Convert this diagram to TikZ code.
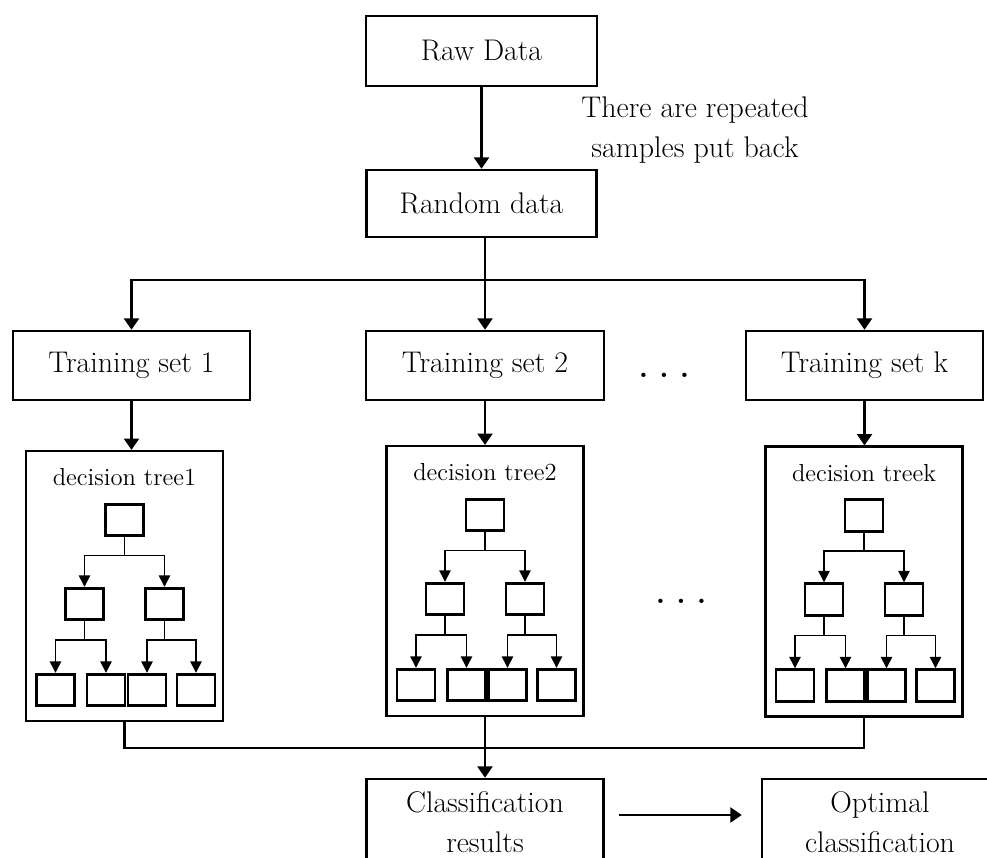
\documentclass[tikz,border=0pt]{standalone}
\usepackage{tikz}
\usetikzlibrary{arrows.meta, positioning, calc}

\tikzset{
    stage/.style={draw, line width=1.4pt, minimum width=4.74cm, minimum height=1.38cm,
        inner sep=2pt, align=center, font=\fontsize{17}{22.7}\selectfont},
    treebox/.style={draw, line width=1.2pt, minimum width=3.94cm, minimum height=5.4cm},
    leaf/.style={draw, line width=1.6pt, minimum width=0.76cm, minimum height=0.63cm, inner sep=0pt},
    flow/.style={line width=1.5pt, ->},
    stem/.style={line width=0.8pt},
    branch/.style={line width=0.8pt, -{Triangle[length=6.5pt, width=6.5pt]}},
}

\begin{document}
\begin{tikzpicture}[>={Triangle[length=6.5pt, width=8.5pt]}]
    \clip (0,0) rectangle (19.74,17.14);

    % sampling
    \node[stage, minimum width=4.62cm, minimum height=1.4cm] (raw) at (9.63,16.12) {Raw Data};
    \node[stage, minimum width=4.6cm, minimum height=1.34cm] (rand) at (9.63,13.07) {Random data};
    \node[align=center, font=\fontsize{17}{22.7}\selectfont] (note) at (13.9,14.54) {There are repeated\\samples put back};
    \draw[flow] (raw) -- (rand);

    % training sets
    \node[stage] (ts1) at (2.63,9.83) {Training set 1};
    \node[stage, minimum width=4.76cm] (ts2) at (9.70,9.83) {Training set 2};
    \node[stage] (tsk) at (17.29,9.83) {Training set k};
    \node[font=\fontsize{17}{20}\selectfont\bfseries] (gap1) at (13.28,9.64) {.\ .\ .};

    \coordinate (split) at (9.70,11.54);
    \draw[line width=1.5pt] (rand.south -| split) -- (split);
    \draw[flow] (split) -| (ts1);
    \draw[flow] (split) -- (ts2);
    \draw[flow] (split) -| (tsk);

    % decision trees
    \foreach \k/\x/\y in {1/2.49/5.42, 2/9.70/5.52, k/17.28/5.51} {
        \node[treebox] (tree\k) at (\x,\y) {};
        \node[font=\fontsize{14}{16}\selectfont] (title\k) at ([yshift=-0.55cm]tree\k.north) {decision tree\k};
        \node[leaf] (root\k) at ([yshift=-1.4cm]tree\k.north) {};
        \node[leaf] (left\k) at ($(root\k)+(-0.8,-1.68)$) {};
        \node[leaf] (right\k) at ($(root\k)+(0.8,-1.68)$) {};
        \foreach \j/\dx in {1/-1.38, 2/-0.37, 3/0.45, 4/1.43}
            \node[leaf] (leaf\k\j) at ($(root\k)+(\dx,-3.4)$) {};

        \draw[stem] (root\k.south) -- ++(0,-0.37) coordinate (fork\k);
        \draw[branch] (fork\k) -| (left\k);
        \draw[branch] (fork\k) -| (right\k);
        \draw[stem] (left\k.south) -- ++(0,-0.38) coordinate (forkL\k);
        \draw[branch] (forkL\k) -| (leaf\k1);
        \draw[branch] (forkL\k) -| (leaf\k2);
        \draw[stem] (right\k.south) -- ++(0,-0.38) coordinate (forkR\k);
        \draw[branch] (forkR\k) -| (leaf\k3);
        \draw[branch] (forkR\k) -| (leaf\k4);
    }
    \draw[flow] (ts1) -- (ts1 |- tree1.north);
    \draw[flow] (ts2) -- (tree2);
    \draw[flow] (tsk) -- (tsk |- treek.north);
    \node[font=\fontsize{17}{20}\selectfont\bfseries] (gap2) at (13.62,5.12) {.\ .\ .};

    % voting
    \node[stage, minimum height=1.72cm] (cls) at (9.70,0.70) {Classification\\results};
    \node[stage, minimum width=4.72cm, minimum height=1.72cm] (opt) at (17.60,0.70) {Optimal\\classification};
    \coordinate (join) at (9.70,2.18);
    \draw[line width=1.5pt] (tree1) |- (join) -| (treek);
    \draw[flow] (tree2) -- (cls);
    \draw[flow] ([shift={(0.28,0.14)}]cls.east) -- ([shift={(-0.38,0.14)}]opt.west);
\end{tikzpicture}
\end{document}
